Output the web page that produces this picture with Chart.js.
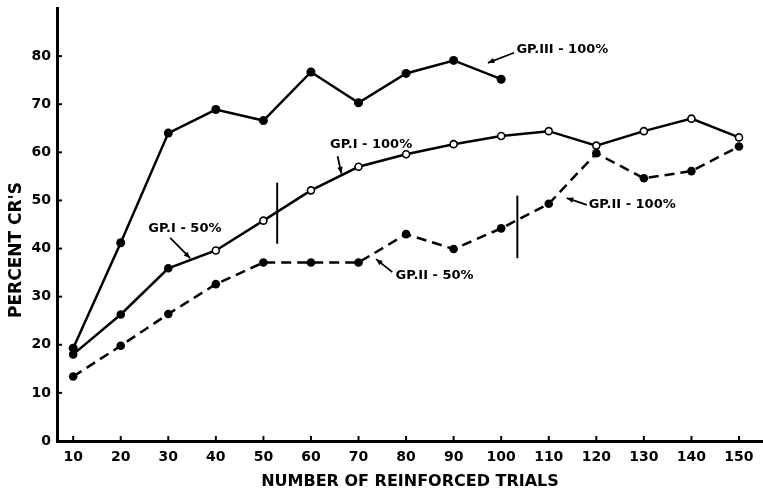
<!DOCTYPE html>
<html><head><meta charset="utf-8">
<script src="https://cdn.jsdelivr.net/npm/chart.js@4/dist/chart.umd.min.js"></script>
<style>html,body{margin:0;padding:0;background:#fff}</style>
</head><body>
<canvas id="c" width="763" height="491"></canvas>
<script>
// ---- data ----
const trials   = [10,20,30,40,50,60,70,80,90,100,110,120,130,140,150];
const gp3_100  = [19.3,41.2,64.0,68.9,66.6,76.7,70.3,76.4,79.1,75.2];
const gp1      = [18.0,26.3,35.9,39.6,45.8,52.1,57.0,59.6,61.7,63.4,64.4,61.4,64.4,67.0,63.1];
const gp2      = [13.4,19.8,26.4,32.6,37.1,37.1,37.1,43.0,39.9,44.2,49.3,59.8,54.6,56.1,61.2];
const xTicks   = [10,20,30,40,50,60,70,80,90,100,110,120,130,140,150];
const yTicks   = [0,10,20,30,40,50,60,70,80];
// vertical markers where schedule switches from 50% to 100%
const switchGp1 = [52.9, 41.0, 53.7]; // x, yLow, yHigh
const switchGp2 = [103.4, 38.0, 51.0];
const labelTexts = ["GP.III - 100%","GP.I - 100%","GP.I - 50%","GP.II - 50%","GP.II - 100%"];

const FONT = "'DejaVu Sans', sans-serif";
const pts = (xs, ys) => ys.map((v,i)=>({x:xs[i], y:v}));

// annotation placement (data units): label left/centre and arrow tail->head
const annotations = [
  {t:0, lx:103.2, ly:81.3, ax:[102.7,80.7, 97.2,78.6]},
  {t:1, lx:64.0,  ly:61.5, ax:[65.6,59.2, 66.4,55.6]},
  {t:2, lx:25.8,  ly:44.1, ax:[30.4,42.2, 34.6,38.0]},
  {t:3, lx:77.8,  ly:34.3, ax:[77.1,35.1, 73.7,37.8]},
  {t:4, lx:118.4, ly:49.1, ax:[118.0,49.1, 113.8,50.5]}
];

const annotPlugin = {
  id:'annot',
  afterDatasetsDraw(chart){
    const {ctx, scales:{x,y}} = chart;
    ctx.save();
    ctx.strokeStyle='#000'; ctx.fillStyle='#000'; ctx.lineWidth=2;
    // inward tick marks
    xTicks.forEach(v=>{const px=x.getPixelForValue(v);ctx.beginPath();ctx.moveTo(px,y.bottom);ctx.lineTo(px,y.bottom-5);ctx.stroke();});
    yTicks.forEach(v=>{const py=y.getPixelForValue(v);ctx.beginPath();ctx.moveTo(x.left,py);ctx.lineTo(x.left+5,py);ctx.stroke();});
    // labels + arrows
    ctx.font = "bold 13px "+FONT; ctx.textBaseline='middle'; ctx.textAlign='left';
    annotations.forEach(a=>{
      ctx.fillText(labelTexts[a.t], x.getPixelForValue(a.lx), y.getPixelForValue(a.ly));
      const x1=x.getPixelForValue(a.ax[0]), y1=y.getPixelForValue(a.ax[1]);
      const x2=x.getPixelForValue(a.ax[2]), y2=y.getPixelForValue(a.ax[3]);
      ctx.lineWidth=1.8;
      ctx.beginPath();ctx.moveTo(x1,y1);ctx.lineTo(x2,y2);ctx.stroke();
      const ang=Math.atan2(y2-y1,x2-x1), L=7, w=0.4;
      ctx.beginPath();ctx.moveTo(x2,y2);
      ctx.lineTo(x2-L*Math.cos(ang-w), y2-L*Math.sin(ang-w));
      ctx.lineTo(x2-L*Math.cos(ang+w), y2-L*Math.sin(ang+w));
      ctx.closePath();ctx.fill();
    });
    // y axis title
    ctx.save();
    ctx.translate(17, 250); ctx.rotate(-Math.PI/2);
    ctx.font = "bold 17px "+FONT; ctx.textAlign='center'; ctx.textBaseline='middle';
    ctx.fillText("PERCENT CR'S",0,0);
    ctx.restore();
    ctx.restore();
  }
};

new Chart(document.getElementById('c'), {
  type:'line',
  data:{datasets:[
    {label:'GP. III - 100%', data:pts(trials,gp3_100), borderColor:'#000', borderWidth:2.5,
     pointRadius:4.5, pointBackgroundColor:'#000', pointBorderColor:'#000', pointBorderWidth:0},
    {label:'GP. I', data:pts(trials,gp1), borderColor:'#000', borderWidth:2.5,
     pointRadius:3.5, pointBorderColor:'#000', pointBorderWidth:1.6,
     pointBackgroundColor:c=>c.dataIndex<3?'#000':'#fff'},
    {label:'GP. II', data:pts(trials,gp2), borderColor:'#000', borderWidth:2.5, borderDash:[10,6],
     pointRadius:4.3, pointBackgroundColor:'#000', pointBorderColor:'#000', pointBorderWidth:0},
    {label:'switch I', data:[{x:switchGp1[0],y:switchGp1[1]},{x:switchGp1[0],y:switchGp1[2]}],
     borderColor:'#000', borderWidth:2, pointRadius:0},
    {label:'switch II', data:[{x:switchGp2[0],y:switchGp2[1]},{x:switchGp2[0],y:switchGp2[2]}],
     borderColor:'#000', borderWidth:2, pointRadius:0}
  ]},
  options:{
    responsive:false, animation:false, devicePixelRatio:1,
    layout:{autoPadding:false, padding:{top:8,right:0,left:0,bottom:0}},
    plugins:{legend:{display:false}, tooltip:{enabled:false}},
    elements:{line:{tension:0}},
    scales:{
      x:{type:'linear', min:6.6, max:155.05,
        afterBuildTicks:s=>{s.ticks=xTicks.map(v=>({value:v}));},
        afterFit:s=>{s.height=50; s.paddingRight=0; s.paddingLeft=0;},
        grid:{display:false, drawTicks:false},
        border:{display:true,color:'#000',width:3},
        ticks:{color:'#000', padding:8, maxRotation:0, autoSkip:false, font:{family:FONT,weight:'bold',size:14}},
        title:{display:true, text:'NUMBER OF REINFORCED TRIALS', color:'#000', padding:{top:0,bottom:0},
          font:{family:FONT,weight:'bold',size:16}}
      },
      y:{type:'linear', min:0, max:90,
        afterBuildTicks:s=>{s.ticks=yTicks.map(v=>({value:v}));},
        afterFit:s=>{s.width=57; s.paddingTop=0; s.paddingBottom=0;},
        grid:{display:false, drawTicks:false},
        border:{display:true,color:'#000',width:3},
        ticks:{color:'#000', padding:6, font:{family:FONT,weight:'bold',size:14}}
      }
    }
  },
  plugins:[annotPlugin]
});
</script>
</body></html>
